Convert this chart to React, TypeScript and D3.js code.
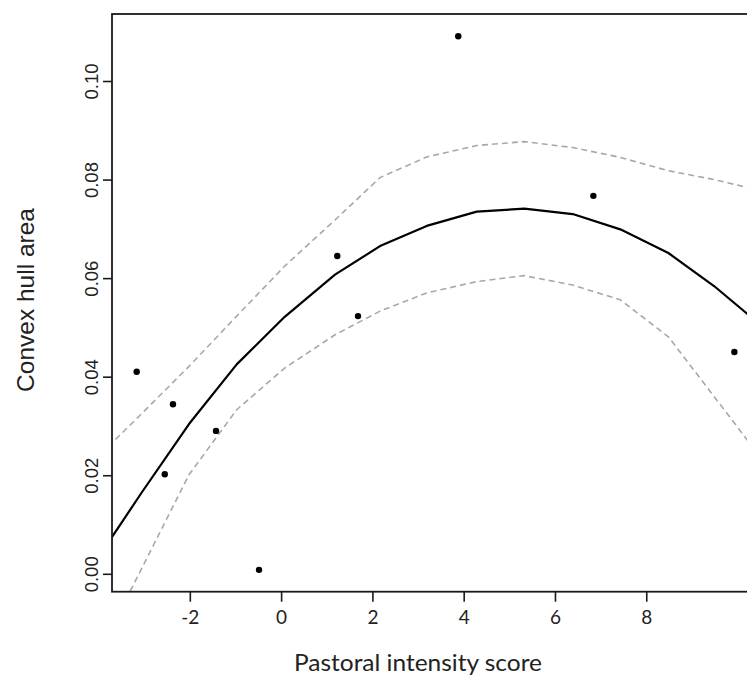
import React from "react";
import * as d3 from "d3";

// observed data points
const obsX = [-3.175, -2.38, -2.56, -1.437, -0.495, 1.22, 1.674, 3.87, 6.83, 9.92];
const obsY = [0.0411, 0.0345, 0.0203, 0.0291, 0.0009, 0.0646, 0.0524, 0.1092, 0.0768, 0.0451];

// fitted curve with confidence band
const gridX = [-4.11, -3.065, -2.029, -0.984, 0.074, 1.17, 2.156, 3.179, 4.275, 5.318, 6.378, 7.421, 8.473, 9.474, 10.52];
const fitY = [0.0021, 0.0166, 0.0305, 0.0426, 0.0523, 0.0608, 0.0666, 0.0707, 0.0736, 0.0742, 0.0731, 0.07, 0.0652, 0.0585, 0.0504];
const upperY = [0.0231, 0.0326, 0.0422, 0.0524, 0.0626, 0.0719, 0.0805, 0.0847, 0.087, 0.0878, 0.0866, 0.0846, 0.0819, 0.0801, 0.0778];
const lowerY = [-0.0179, 0.0012, 0.0202, 0.0334, 0.0419, 0.0486, 0.0534, 0.0571, 0.0594, 0.0606, 0.0587, 0.0557, 0.0482, 0.0361, 0.0234];

const xTicks = [-2, 0, 2, 4, 6, 8];
const yTicks = [0, 0.02, 0.04, 0.06, 0.08, 0.1];
const yTickLabels = ["0.00", "0.02", "0.04", "0.06", "0.08", "0.10"];

const xTitle = "Pastoral intensity score";
const yTitle = "Convex hull area";

export default function App() {
  const W = 747;
  const H = 677;
  const left = 112, right = 770, top = 14, bottom = 591.7;
  const x = d3.scaleLinear().domain([-3.716, 10.7]).range([left, right]);
  const y = d3.scaleLinear().domain([-0.00353, 0.1137]).range([bottom, top]);

  const line = d3
    .line<[number, number]>()
    .x((d) => x(d[0]))
    .y((d) => y(d[1]));
  const pts = (ys: number[]) => gridX.map((g, i) => [g, ys[i]] as [number, number]);

  const sans = "'Liberation Sans', Arial, sans-serif";
  const human = "Lato, 'Open Sans', sans-serif";

  return (
    <svg
      width={W}
      height={H}
      style={{ position: "absolute", left: 0, top: 0, background: "#fff" }}
    >
      <defs>
        <clipPath id="plotclip">
          <rect x={left} y={top} width={right - left} height={bottom - top} />
        </clipPath>
      </defs>
      <rect x={0} y={0} width={W} height={H} fill="#fff" />
      <g clipPath="url(#plotclip)">
        <path d={line(pts(upperY)) || ""} fill="none" stroke="#a8a8a8" strokeWidth={1.6} strokeDasharray="6,4" />
        <path d={line(pts(lowerY)) || ""} fill="none" stroke="#a8a8a8" strokeWidth={1.6} strokeDasharray="6,4" />
        <path d={line(pts(fitY)) || ""} fill="none" stroke="#000" strokeWidth={2.2} strokeLinejoin="round" />
        {obsX.map((v, i) => (
          <circle key={i} cx={x(v)} cy={y(obsY[i])} r={3.2} fill="#000" />
        ))}
      </g>
      {/* box */}
      <rect x={left} y={top} width={right - left} height={bottom - top} fill="none" stroke="#1a1a1a" strokeWidth={1.8} />
      {/* y axis ticks */}
      {yTicks.map((v, i) => (
        <g key={"y" + i}>
          <line x1={left - 9} x2={left} y1={y(v)} y2={y(v)} stroke="#1a1a1a" strokeWidth={1.6} />
          <text
            transform={`translate(97.5,${y(v)}) rotate(-90)`}
            textAnchor="middle"
            fontFamily={sans}
            fontSize={18.5}
            fill="#222"
          >
            {yTickLabels[i]}
          </text>
        </g>
      ))}
      {/* x axis ticks */}
      {xTicks.map((v, i) => (
        <g key={"x" + i}>
          <line x1={x(v)} x2={x(v)} y1={bottom} y2={bottom + 10} stroke="#1a1a1a" strokeWidth={1.6} />
          <text x={x(v)} y={623.5} textAnchor="middle" fontFamily={human} fontSize={19} fill="#222">
            {String(v)}
          </text>
        </g>
      ))}
      <text x={418} y={671} textAnchor="middle" fontFamily={human} fontSize={24} fill="#222" textLength={248} lengthAdjust="spacingAndGlyphs">
        {xTitle}
      </text>
      <text
        transform={`translate(34,300) rotate(-90)`}
        textAnchor="middle"
        fontFamily={sans}
        fontSize={24.5}
        fill="#222"
      >
        {yTitle}
      </text>
    </svg>
  );
}
